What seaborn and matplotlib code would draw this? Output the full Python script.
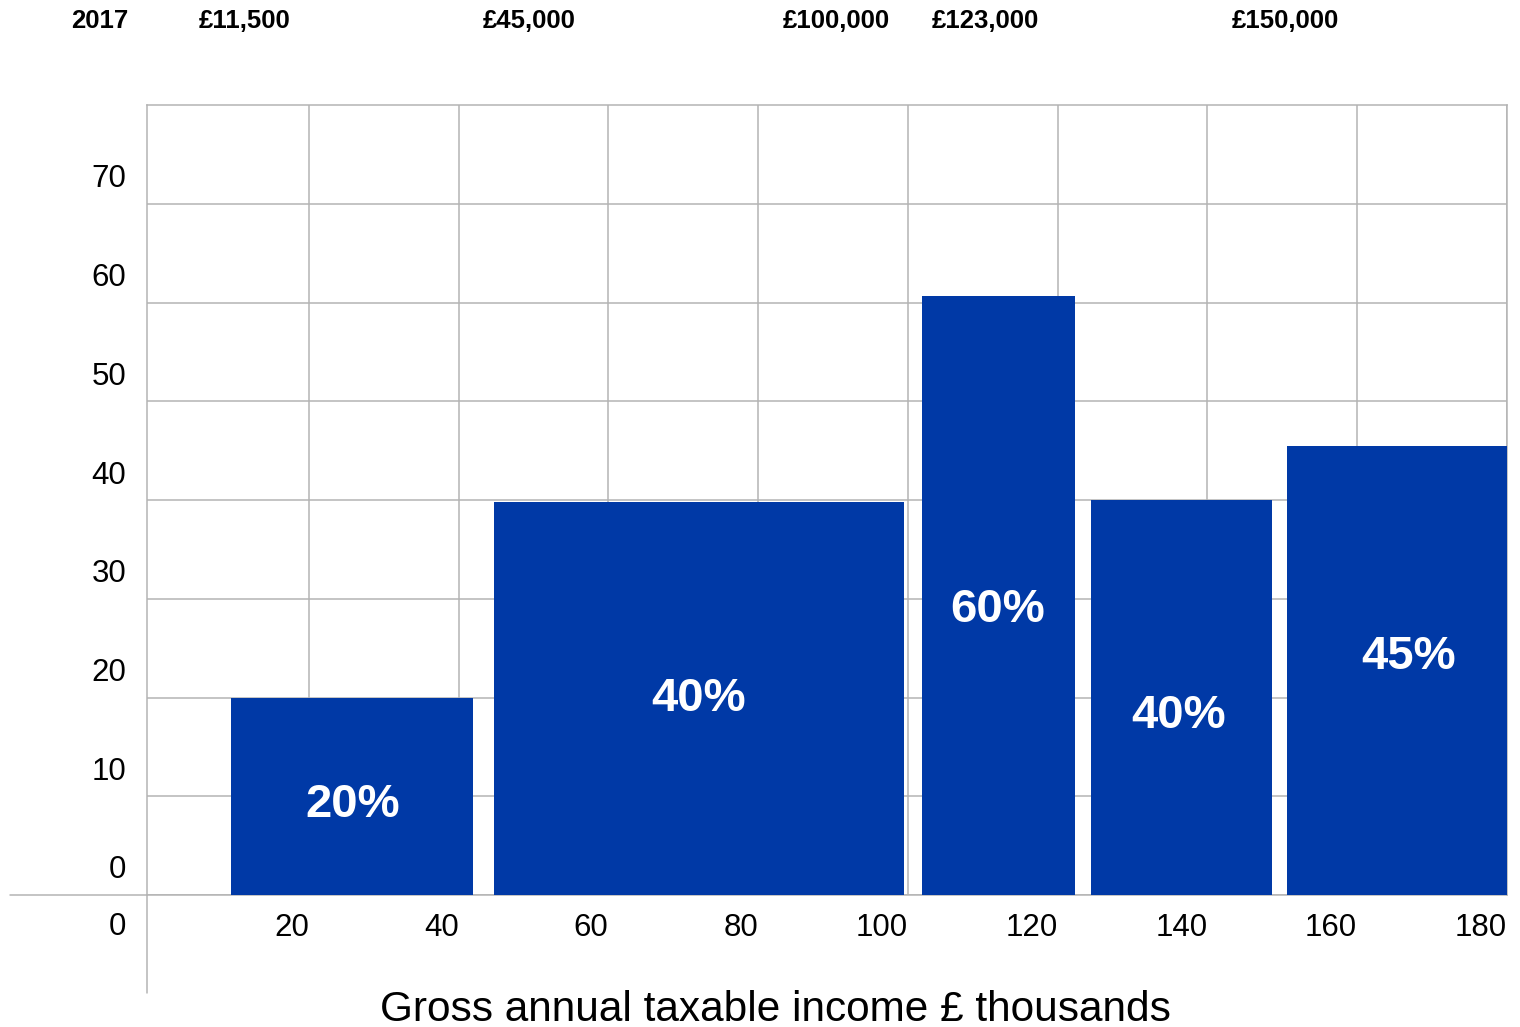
import matplotlib
matplotlib.use("Agg")
import matplotlib.pyplot as plt
from matplotlib.lines import Line2D
from matplotlib.transforms import ScaledTranslation
import seaborn as sns

# ---- data ----
band_start = [9.6, 44.7, 101.9, 124.4, 150.6]      # £ thousands (drawn left edges)
band_end = [41.9, 99.5, 122.3, 148.6, 180.0]        # £ thousands (drawn right edges)
band_height = [20.0, 39.8, 60.7, 40.0, 45.5]        # drawn bar heights
band_labels = ["20%", "40%", "60%", "40%", "45%"]
label_x = [25.8, 72.0, 112.0, 136.1, 166.8]         # label centres inside bars
label_y = [9.1, 19.8, 28.9, 18.1, 24.1]
x_ticks = [20, 40, 60, 80, 100, 120, 140, 160, 180]
y_ticks = [10, 20, 30, 40, 50, 60, 70]
top_labels = ["2017", "£11,500", "£45,000", "£100,000", "£123,000", "£150,000"]
top_label_px = [100, 245, 529, 836, 985, 1285]      # pixel centres along the top
x_title = "Gross annual taxable income £ thousands"

W, H = 1520, 1027
BAR = "#0039A6"
GRID = "#b4b4b4"

sns.set_theme(style="white")
plt.rcParams["font.family"] = ["Liberation Sans", "DejaVu Sans"]

fig = plt.figure(figsize=(W / 100, H / 100), dpi=100)
L, R, T, B = 147, 1507, 105, 895
ax = fig.add_axes([L / W, 1 - B / H, (R - L) / W, (B - T) / H])

# bars via seaborn histogram with explicit (gapped) bins
edges = sorted(band_start + band_end)
mids = [(s + e) / 2 for s, e in zip(band_start, band_end)]
sns.histplot(x=mids, weights=band_height, bins=edges, ax=ax, color=BAR,
             alpha=1, linewidth=0, stat="count", zorder=3)

ax.set_xlim(-1.6, 180)
ax.set_ylim(0, 80)
ax.set_xlabel("")
ax.set_ylabel("")

ax.set_xticks(x_ticks)
ax.set_xticklabels([str(v) for v in x_ticks], ha="right")
ax.set_yticks(y_ticks + [0])
ax.set_yticklabels([str(v) for v in y_ticks] + ["0"])
ax.tick_params(axis="x", length=0, pad=13, labelsize=22.5, colors="black")
ax.tick_params(axis="y", length=0, pad=15, labelsize=22.5, colors="black")
for lab in ax.get_yticklabels():
    lab.set_transform(lab.get_transform() + ScaledTranslation(0, 0.28, fig.dpi_scale_trans))

ax.grid(True, color=GRID, linewidth=1.1, zorder=0)
ax.set_axisbelow(True)
for s in ax.spines.values():
    s.set_visible(True)
    s.set_color(GRID)
    s.set_linewidth(1.1)

# percentage labels
for x, y, t in zip(label_x, label_y, band_labels):
    ax.text(x, y, t, ha="center", va="center", color="white",
            fontsize=34, fontweight="bold", zorder=5)

# axis extensions (zero line to the left, y axis down)
fig.add_artist(Line2D([10 / W, L / W], [1 - B / H, 1 - B / H], color=GRID, lw=1.1,
                      transform=fig.transFigure))
fig.add_artist(Line2D([L / W, L / W], [1 - B / H, 1 - 993 / H], color=GRID, lw=1.1,
                      transform=fig.transFigure))

# corner "0" for the x axis
fig.text(126 / W, 1 - 927 / H, "0", ha="right", va="center", fontsize=22.5, color="black")

# top threshold labels
for t, px in zip(top_labels, top_label_px):
    fig.text(px / W, 1 - 21 / H, t, ha="center", va="center", fontsize=18.5,
             fontweight="bold", color="black")

fig.text(775 / W, 1 - 1010 / H, x_title, ha="center", va="center", fontsize=30.5,
         color="black")

fig.savefig("out.png", dpi=100)
